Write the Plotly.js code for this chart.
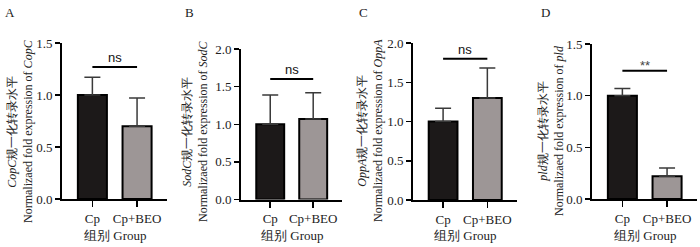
<!DOCTYPE html>
<html>
<head>
<meta charset="utf-8">
<script src="https://cdn.plot.ly/plotly-3.0.1.min.js"></script>
<style>html,body{margin:0;padding:0;background:#fff;}#chart{width:700px;height:247px;}</style>
</head>
<body>
<div id="chart"></div>
<script>
// ---- data ----
const categories = ['Cp', 'Cp+BEO'];
const panelLetters = ['A', 'B', 'C', 'D'];
const genes = ['CopC', 'SodC', 'OppA', 'pld'];
const meansA = [1.00, 0.70];
const errA   = [0.17, 0.27];
const meansB = [1.00, 1.07];
const errB   = [0.39, 0.35];
const meansC = [1.00, 1.30];
const errC   = [0.17, 0.38];
const meansD = [1.00, 0.22];
const errD   = [0.07, 0.08];
const sigY     = [1.27, 1.60, 1.80, 1.24];
const sigLabel = ['ns', 'ns', 'ns', '**'];
const yMax     = [1.5, 2.0, 2.0, 1.5];
const yTicks   = [[0, 0.5, 1.0, 1.5], [0, 0.5, 1.0, 1.5, 2.0], [0, 0.5, 1.0, 1.5, 2.0], [0, 0.5, 1.0, 1.5]];
const xTitle = '组别 Group';

const means = [meansA, meansB, meansC, meansD];
const errs = [errA, errB, errC, errD];

// ---- layout geometry (pixels) ----
const W = 700, H = 247;
const boxes = [
  {x0: 62,  x1: 167, top: 43, bottom: 199, titleX: 20,  letterX: 10},
  {x0: 241, x1: 342, top: 49, bottom: 199.5, titleX: 195, letterX: 190},
  {x0: 413, x1: 517, top: 43, bottom: 200, titleX: 370, letterX: 363},
  {x0: 592, x1: 697, top: 44, bottom: 199, titleX: 551, letterX: 545}
];
const barColors = ['#1c1919', '#9d9696'];
const serif = 'Liberation Serif';
const sans = 'Liberation Sans';

const traces = [];
const layout = {
  width: W, height: H,
  margin: {l: 0, r: 0, t: 0, b: 0},
  paper_bgcolor: '#fff', plot_bgcolor: 'rgba(0,0,0,0)',
  showlegend: false,
  font: {family: serif, size: 12, color: '#222'},
  shapes: [], annotations: []
};

boxes.forEach((b, i) => {
  const n = i === 0 ? '' : String(i + 1);
  const xa = 'x' + n, ya = 'y' + n;
  traces.push({
    type: 'bar', x: categories, y: means[i], xaxis: xa, yaxis: ya,
    width: 0.65,
    marker: {color: barColors, line: {color: '#000', width: 2}},
    error_y: {type: 'data', symmetric: false, array: errs[i], arrayminus: [0, 0],
              color: '#3a3a3a', thickness: 1.5, width: 8}
  });
  layout['xaxis' + n] = {
    domain: [b.x0 / W, b.x1 / W], anchor: ya,
    range: [-0.68, 1.67], type: 'category',
    showline: true, linecolor: '#000', linewidth: 2,
    ticks: 'outside', ticklen: 6, tickwidth: 1.5, tickcolor: '#000',
    showgrid: false, zeroline: false, fixedrange: true,
    tickfont: {family: serif, size: 13, color: '#222'}
  };
  layout['yaxis' + n] = {
    domain: [1 - b.bottom / H, 1 - b.top / H], anchor: xa,
    range: [0, yMax[i]], tickvals: yTicks[i], tickformat: '.1f',
    showline: true, linecolor: '#000', linewidth: 2,
    ticks: 'outside', ticklen: 5, tickwidth: 1.5, tickcolor: '#000',
    showgrid: false, zeroline: false, fixedrange: true,
    tickfont: {family: serif, size: 13, color: '#222'}
  };
  // significance bar
  layout.shapes.push({type: 'line', xref: xa, yref: ya, x0: 0, x1: 1, y0: sigY[i], y1: sigY[i],
                      line: {color: '#000', width: 2}});
  layout.annotations.push({xref: xa, yref: ya, x: 0.5, y: sigY[i], text: sigLabel[i],
    showarrow: false, yanchor: 'bottom', yshift: sigLabel[i] === '**' ? -4 : 0,
    font: {family: sans, size: 13, color: sigLabel[i] === '**' ? '#444' : '#111'}});
  // panel letter
  layout.annotations.push({xref: 'paper', yref: 'paper', x: b.letterX / W, y: 1 - 13 / H,
    text: panelLetters[i], showarrow: false, xanchor: 'center', yanchor: 'middle',
    font: {family: serif, size: 13, color: '#222'}});
  // y title
  layout.annotations.push({xref: 'paper', yref: 'paper', x: b.titleX / W, y: 1 - 131 / H,
    text: '<i>' + genes[i] + '</i>规一化转录水平<br>Normalizaed fold expression of <i>' + genes[i] + '</i>',
    showarrow: false, textangle: -90, xanchor: 'center', yanchor: 'middle',
    font: {family: serif, size: 12, color: '#222'}});
  // x title
  layout.annotations.push({xref: 'paper', yref: 'paper', x: ((b.x0 + b.x1) / 2) / W, y: 1 - 235 / H,
    text: xTitle, showarrow: false, xanchor: 'center', yanchor: 'middle',
    font: {family: serif, size: 13, color: '#222'}});
});

Plotly.newPlot('chart', traces, layout, {staticPlot: true, displayModeBar: false});
</script>
</body>
</html>
